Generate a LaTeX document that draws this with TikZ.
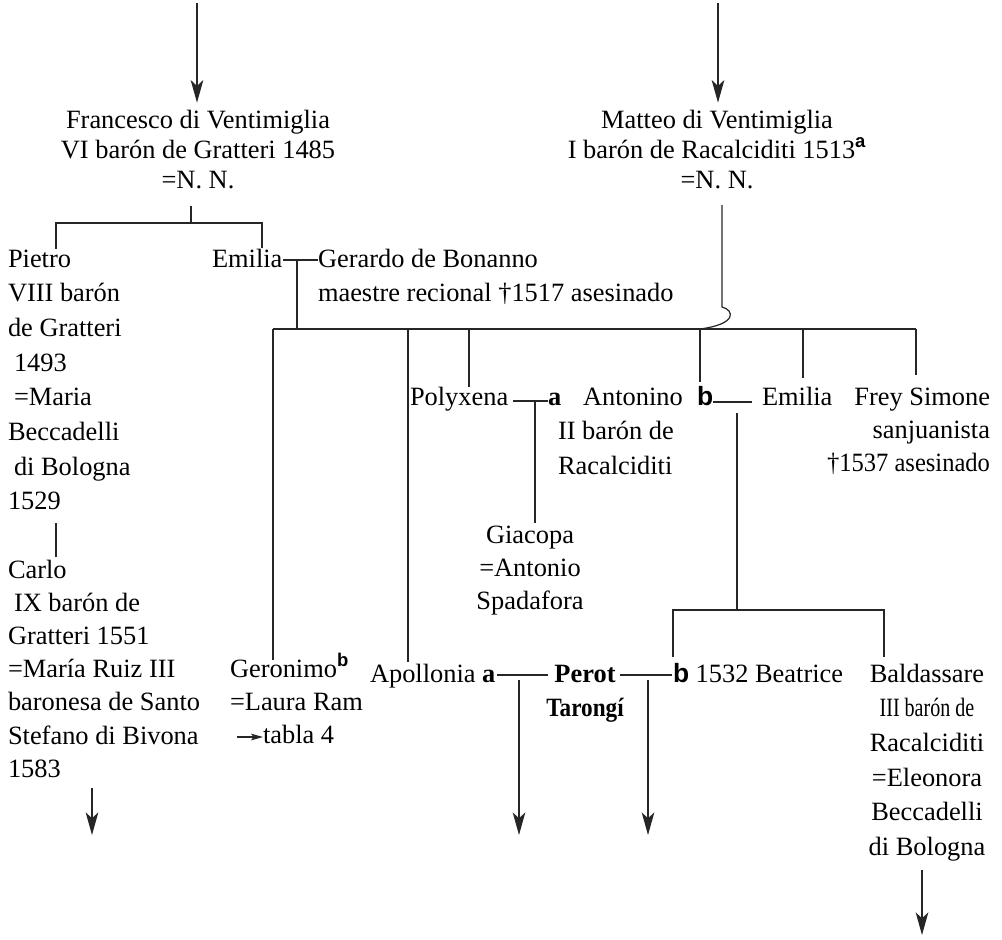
\documentclass[tikz,border=0pt]{standalone}
\usepackage{fontspec}
\setmainfont{Liberation Serif}
\newfontfamily\labsans{Liberation Sans}
\usepackage{graphicx}
\usetikzlibrary{arrows.meta}

% every text block starts with this strut, so its first baseline sits 19pt below the node's top
\newcommand\firstline{\rule{0pt}{19pt}}
\newcommand\padL{\hspace*{4.5pt}}
\newcommand\supsans[1]{\textsuperscript{\labsans\bfseries #1}}
\newcommand\bsans{{\labsans\bfseries b}}

\begin{document}
\begin{tikzpicture}[x=0.75pt,y=-0.75pt,
  every node/.style={inner sep=0pt,outer sep=0pt},
  blk/.style={yshift=19pt,font=\fontsize{19.8pt}{#1}\selectfont},
  blk/.default=25.5pt,
  lft/.style={anchor=north west,align=left},
  ctr/.style={anchor=north,align=center},
  rgt/.style={anchor=north east,align=right},
  link/.style={draw=black!85,line width=0.9pt},
  arr/.style={link,-{Stealth[length=17pt,width=9.5pt,inset=4.5pt]}},
  smallarr/.style={link,-{Stealth[length=9pt,width=5pt,inset=2pt]}}
]
\useasboundingbox (0,0) rectangle (1002,939);

% ---------- people ----------
\node[blk=22.5pt,ctr] (fran) at (198,128) {\firstline Francesco di Ventimiglia\\VI barón de Gratteri 1485\\=N. N.};
\node[blk=22.5pt,ctr] (matt) at (717,128) {\firstline Matteo di Ventimiglia\\I barón de Racalciditi 1513\supsans{a}\\=N. N.};

\node[blk=26pt,lft] (pietro) at (8,267) {\firstline Pietro\\VIII barón\\de Gratteri\\\padL 1493\\\padL =Maria\\Beccadelli\\\padL di Bologna\\1529};
\node[blk=24.9pt,lft] (carlo) at (8,578) {\firstline Carlo\\\padL IX barón de\\Gratteri 1551\\=María Ruiz III\\baronesa de Santo\\Stefano di Bivona\\1583};

\node[blk,lft] (emi1) at (212,267) {\firstline Emilia};
\node[blk,lft] (gera) at (318,267) {\firstline Gerardo de Bonanno\\maestre recional †1517 asesinado};

\node[blk,lft] (poly) at (410,405) {\firstline Polyxena};
\node[blk,lft] (aA) at (548,405) {\firstline\textbf{a}};
\node[blk=25.9pt,lft] (anto) at (558,405) {\firstline\hspace*{18.75pt}Antonino\\II barón de\\Racalciditi};
\node[blk,lft] (bB) at (697,405) {\firstline\bsans};
\node[blk,lft] (emi2) at (762,405) {\firstline Emilia};
\node[blk=25.1pt,rgt] (frey) at (990,405) {\firstline Frey Simone\\sanjuanista\\\scalebox{0.93}[1]{†1537 asesinado}};

\node[blk=25.1pt,ctr] (giac) at (530,543) {\firstline Giacopa\\=Antonio\\Spadafora};

\node[blk=24.8pt,lft] (geron) at (230,677) {\firstline Geronimo\supsans{b}\\=Laura Ram};
\node[blk,lft] (tabla) at (263,743) {\firstline tabla 4};
\node[blk,lft] (apol) at (370,682) {\firstline Apollonia \textbf{a}};
\node[blk,ctr] (perot) at (585,682) {\firstline\bfseries Perot\\\scalebox{0.88}[1]{\bfseries Tarongí}};
\node[blk,lft] (beat) at (673,682) {\firstline\bsans\ 1532 Beatrice};
\node[blk=26pt,ctr] (bald) at (927,682) {\firstline Baldassare\\\scalebox{0.76}[1]{III barón de}\\Racalciditi\\=Eleonora\hspace*{12pt}\\Beccadelli\\di Bologna};

% ---------- junction points ----------
\coordinate (fIn) at (197,3);
\coordinate (mIn) at (718,3);

\coordinate (fDrop) at (191,206);
\coordinate (fBar) at (191,223);
\coordinate (pTop) at (56,249);
\coordinate (eTop) at (262,248);
\coordinate (pBot) at (56,523);
\coordinate (cTop) at (56,557);
\coordinate (cOut0) at (92,788);
\coordinate (cOut1) at (92,835);

\coordinate (egL) at (283,260);
\coordinate (egR) at (318,260);
\coordinate (egMid) at (297,260);

\coordinate (mDrop) at (722,205);
\coordinate (mBend) at (722,307);
\coordinate (mJoin) at (700,329);

\coordinate (cL) at (273,329);
\coordinate (cR) at (916,329);
\coordinate (geTop) at (273,660);
\coordinate (apTop) at (408,662);
\coordinate (poTop) at (469,387);
\coordinate (bTop) at (700,382);
\coordinate (e2Top) at (803,378);
\coordinate (frTop) at (916,375);

\coordinate (paL) at (513,401);
\coordinate (paR) at (548,401);
\coordinate (paMid) at (535,401);
\coordinate (giTop) at (535,523);

\coordinate (beL) at (713,402);
\coordinate (beR) at (752,402);
\coordinate (beDrop) at (737,413);
\coordinate (beBar) at (737,610);
\coordinate (btL) at (673,610);
\coordinate (btR) at (884,610);
\coordinate (btLTop) at (673,657);
\coordinate (btRTop) at (884,657);

\coordinate (apL) at (497,675);
\coordinate (apR) at (548,675);
\coordinate (apOut0) at (519,680);
\coordinate (apOut1) at (519,835);
\coordinate (peL) at (620,675);
\coordinate (peR) at (672,675);
\coordinate (peOut0) at (648,680);
\coordinate (peOut1) at (648,835);

\coordinate (tabArr0) at (237,737);
\coordinate (tabArr1) at (263,737);

\coordinate (baOut0) at (922,870);
\coordinate (baOut1) at (922,935);

% ---------- connectors ----------
\draw[arr] (fIn) -- (fIn |- fran.north);
\draw[arr] (mIn) -- (mIn |- matt.north);

% children of Francesco
\draw[link] (fDrop) -- (fBar);
\draw[link] (pTop) |- (eTop |- fBar) -- (eTop);
\draw[link] (pBot) -- (cTop);
\draw[arr] (cOut0) -- (cOut1);

% Emilia = Gerardo and their children
\draw[link] (egL) -- (egR);
\draw[link] (egMid) -- (egMid |- cL);
\draw[link] (cL) -- (cR);
\draw[link] (mDrop) -- (mBend) .. controls (734,310) and (738,324) .. (mJoin);
\draw[link] (cL) -- (geTop);
\draw[link] (apTop |- cL) -- (apTop);
\draw[link] (poTop |- cL) -- (poTop);
\draw[link] (mJoin) -- (bTop);
\draw[link] (e2Top |- cL) -- (e2Top);
\draw[link] (cR) -- (frTop);

% Polyxena = Antonino
\draw[link] (paL) -- (paR);
\draw[link] (paMid) -- (giTop);

% Antonino = Emilia
\draw[link] (beL) -- (beR);
\draw[link] (beDrop) -- (beBar);
\draw[link] (btLTop) |- (btR) -- (btRTop);

% Apollonia = Perot Tarongí = Beatrice
\draw[link] (apL) -- (apR);
\draw[arr] (apOut0) -- (apOut1);
\draw[link] (peL) -- (peR);
\draw[arr] (peOut0) -- (peOut1);

\draw[smallarr] (tabArr0) -- (tabArr1);
\draw[arr] (baOut0) -- (baOut1);
\end{tikzpicture}
\end{document}
